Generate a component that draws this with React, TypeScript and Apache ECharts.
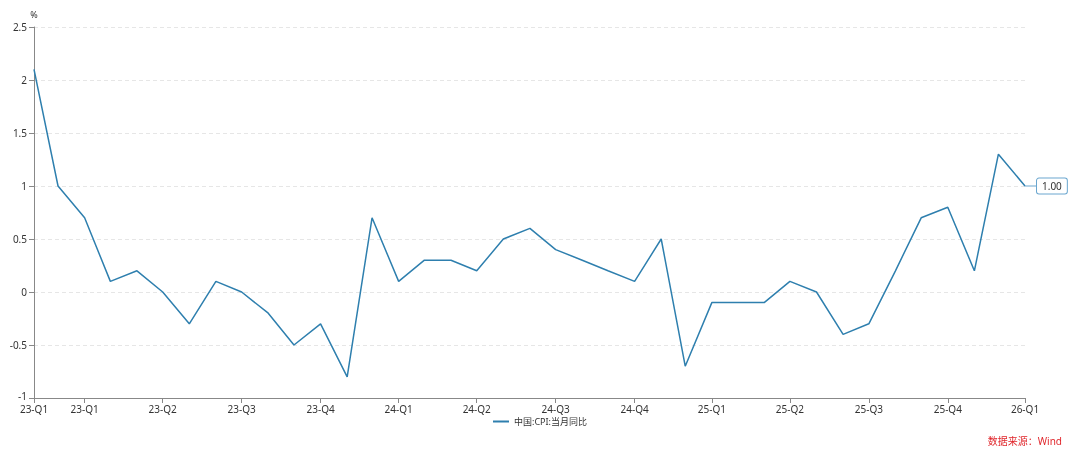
import React, { useEffect, useRef } from "react";
import * as echarts from "echarts";

const months: string[] = [
  "2023-01", "2023-02", "2023-03", "2023-04", "2023-05", "2023-06",
  "2023-07", "2023-08", "2023-09", "2023-10", "2023-11", "2023-12",
  "2024-01", "2024-02", "2024-03", "2024-04", "2024-05", "2024-06",
  "2024-07", "2024-08", "2024-09", "2024-10", "2024-11", "2024-12",
  "2025-01", "2025-02", "2025-03", "2025-04", "2025-05", "2025-06",
  "2025-07", "2025-08", "2025-09", "2025-10", "2025-11", "2025-12",
  "2026-01", "2026-02", "2026-03",
];

const cpiYoY: number[] = [
  2.1, 1.0, 0.7, 0.1, 0.2, 0.0, -0.3, 0.1, 0.0, -0.2, -0.5, -0.3,
  -0.8, 0.7, 0.1, 0.3, 0.3, 0.2, 0.5, 0.6, 0.4, 0.3, 0.2, 0.1,
  0.5, -0.7, -0.1, -0.1, -0.1, 0.1, 0.0, -0.4, -0.3, 0.2, 0.7, 0.8,
  0.2, 1.3, 1.0,
];

const seriesName = "中国:CPI:当月同比";
const yTicks: number[] = [-1, -0.5, 0, 0.5, 1, 1.5, 2, 2.5];
const sourceText = "数据来源：Wind";

const monthEnd = (s: string): number => {
  const [y, m] = s.split("-").map(Number);
  return new Date(y, m, 0).getTime();
};

const fmtQuarter = (v: number): string => {
  const d = new Date(v);
  const yy = String(d.getFullYear()).slice(2);
  const q = Math.floor(d.getMonth() / 3) + 1;
  return `${yy}-Q${q}`;
};

export default function App() {
  const ref = useRef<HTMLDivElement>(null);

  useEffect(() => {
    if (!ref.current) return;
    const chart = echarts.init(ref.current, null, { renderer: "svg" });
    const times = months.map(monthEnd);
    const labelTimes = times.filter((t, i) => i === 0 || new Date(t).getMonth() % 3 === 2);
    const data = times.map((t, i) => {
      const item: any = { value: [t, cpiYoY[i]] };
      if (i === times.length - 1) {
        item.label = {
          show: true,
          position: "right",
          distance: 0,
          formatter: (p: any) => Number(p.value[1]).toFixed(2),
          color: "#333",
          fontSize: 10,
          backgroundColor: "#fff",
          borderColor: "#6aa6cf",
          borderWidth: 1,
          borderRadius: 2,
          padding: [3, 5, 2, 5],
        };
      }
      return item;
    });
    const font = "'Noto Sans', 'Noto Sans CJK SC', sans-serif";
    chart.setOption({
      animation: false,
      textStyle: { fontFamily: font },
      grid: { left: 34, right: 55, top: 27, bottom: 57, containLabel: false },
      xAxis: {
        type: "value",
        min: times[0],
        max: times[times.length - 1],
        axisLine: { onZero: false, lineStyle: { color: "#888", width: 1 } },
        axisTick: { show: true, customValues: labelTimes, length: 5, lineStyle: { color: "#888" } },
        axisLabel: {
          customValues: labelTimes,
          formatter: (v: number) => fmtQuarter(v),
          color: "#333",
          fontSize: 10,
          lineHeight: 10,
          margin: 6,
          hideOverlap: false,
          showMinLabel: true,
          showMaxLabel: true,
        },
        splitLine: { show: false },
      },
      yAxis: {
        type: "value",
        name: "%",
        nameGap: 8,
        nameTextStyle: { color: "#333", fontSize: 9, align: "center" },
        min: yTicks[0],
        max: yTicks[yTicks.length - 1],
        interval: 0.5,
        axisLine: { show: true, lineStyle: { color: "#888", width: 1 } },
        axisTick: { show: true, length: 5, lineStyle: { color: "#888" } },
        axisLabel: {
          color: "#333",
          fontSize: 10,
          lineHeight: 10,
          margin: 7,
          formatter: (v: number) => (v === yTicks[0] ? `{low|${v}}` : `${v}`),
          rich: { low: { fontSize: 10, lineHeight: 10, color: "#333", padding: [0, 0, 5, 0] } },
        },
        splitLine: { show: true, lineStyle: { color: "#e6e6e6", type: [4, 3], width: 1 } },
      },
      legend: {
        bottom: 24,
        left: "center",
        itemWidth: 16,
        itemHeight: 2,
        icon: "rect",
        textStyle: { color: "#333", fontSize: 9 },
        itemGap: 4,
        data: [seriesName],
      },
      graphic: [
        {
          type: "text",
          right: 18,
          bottom: 9,
          style: { text: sourceText, fill: "#e0262b", fontSize: 10, fontFamily: font },
        },
      ],
      series: [
        {
          name: seriesName,
          type: "line",
          data,
          showSymbol: true,
          symbol: "circle",
          symbolSize: 0,
          lineStyle: { color: "#2e7fae", width: 1.5 },
          itemStyle: { color: "#2e7fae" },
          labelLayout: { dx: 12 },
          labelLine: { show: true, length2: 0, lineStyle: { color: "#6aa6cf", width: 1 } },
        },
      ],
    });
    return () => chart.dispose();
  }, []);

  return (
    <div
      ref={ref}
      style={{ position: "fixed", left: 0, top: 0, width: 1080, height: 455 }}
    />
  );
}
